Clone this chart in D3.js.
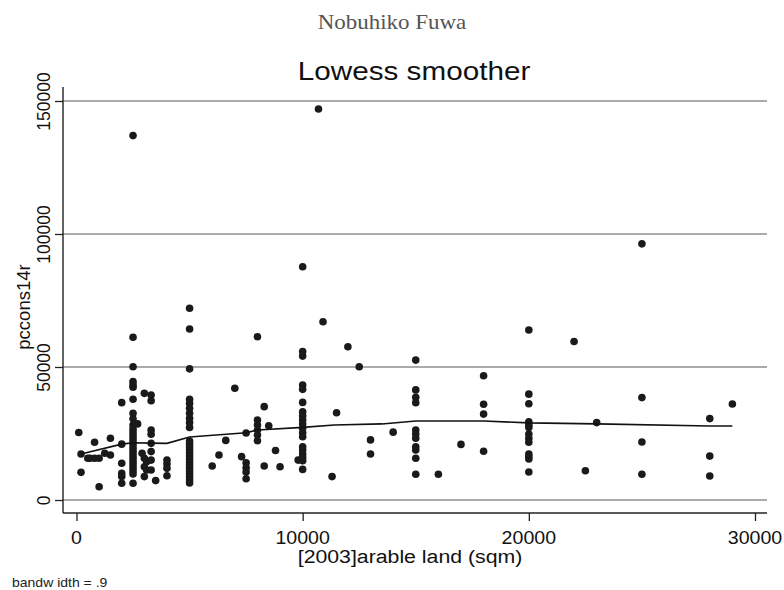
<!DOCTYPE html>
<html><head><meta charset="utf-8">
<script src="https://cdn.jsdelivr.net/npm/d3@7"></script>
<style>body{margin:0;background:#fff;} svg{display:block;}</style>
</head><body>
<script>
// ---- data ----
const landX = [
  100,
  200,200,
  500,600,800,800,1000,1000,1250,1500,1500,
  2000,2000,2000,2000,2000,2000,
  2500,2500,2500,2500,2500,2500,2500,2500,2500,
  2500,2500,2500,2500,2500,2500,2500,2500,2500,
  2500,2500,2500,2500,2500,2500,2500,2500,2500,
  2700,2900,
  3000,3000,3000,3000,
  3100,3100,
  3300,3300,3300,3300,3300,3300,3300,3300,
  3500,
  4000,4000,4000,4000,
  5000,5000,5000,5000,5000,
  5000,5000,5000,5000,5000,
  5000,5000,5000,5000,5000,
  5000,5000,5000,5000,5000,
  5000,5000,5000,5000,5000,
  6000,6300,6600,7000,7300,
  7500,7500,7500,7500,7500,
  8000,8000,8000,8000,8000,8000,
  8300,8300,
  8500,8800,9000,9800,
  10000,10000,10000,10000,10000,10000,10000,10000,10000,10000,
  10000,10000,10000,10000,10000,10000,10000,10000,10000,
  10700,10900,11300,11500,12000,12500,
  13000,13000,
  14000,
  15000,15000,15000,15000,15000,15000,15000,15000,15000,15000,15000,
  16000,17000,
  18000,18000,18000,18000,
  20000,20000,20000,20000,20000,20000,20000,20000,20000,20000,20000,20000,20000,
  22000,22500,23000,
  25000,25000,25000,25000,
  28000,28000,28000,
  29000
];
const consY = [
  25400,
  17300,10400,
  15700,15700,15700,21700,15700,5000,17600,23200,16900,
  36600,21000,13800,10000,8800,6300,
  137000,61200,50100,44500,43200,42400,37900,32600,30500,
  28200,26700,25600,24400,23300,22200,21100,19900,18800,
  17700,16500,15400,14300,13200,12000,10900,9800,6300,
  28600,17600,
  40100,15700,12500,8800,
  14400,11300,
  39500,37300,26300,24700,21300,18200,15000,11300,
  7300,
  15000,13500,11900,9100,
  72100,64300,49300,37900,36400,
  34500,32600,30700,29100,27300,
  22200,21100,19900,18800,17700,
  16500,15400,14300,13200,12000,
  10900,9800,8600,7500,6400,
  12800,16900,22400,42000,16300,
  25200,14000,12100,10500,8000,
  61400,30100,28200,26300,24400,22300,
  35100,12800,
  27900,18600,12500,15000,
  87700,55800,54100,43200,41600,36700,33200,31700,30100,28600,
  27000,25300,23800,20000,18800,17300,16000,14800,11500,
  147000,67000,8800,32800,57600,50100,
  22600,17300,
  25500,
  52600,41400,38600,36600,26300,24800,23200,20000,18800,15700,9700,
  9700,20900,
  46700,36000,32300,18300,
  63900,39800,36200,29400,28200,27300,24800,23200,21700,17300,16300,15400,10500,
  59600,11000,29100,
  96300,38500,21800,9700,
  30600,16500,9000,
  36100
];
const lowessX = [200, 2000, 2500, 3300, 4000, 5000, 7500, 8000, 10000, 11400, 13500, 15000, 18000, 20000, 23000, 28000, 29000];
const lowessY = [17300, 21000, 21500, 21400, 21300, 23700, 25300, 26300, 27300, 28200, 28600, 29700, 29700, 29000, 28600, 27800, 27800];
const xTicks = [0, 10000, 20000, 30000];
const yTicks = [0, 50000, 100000, 150000];
const titleText = "Lowess smoother";
const authorText = "Nobuhiko Fuwa";
const xTitle = "[2003]arable land (sqm)";
const yTitle = "pccons14r";
const noteText = "bandw idth = .9";

// ---- drawing ----
const W = 784, H = 590;
const SX = 1.12; // horizontal stretch of the original rendering
const sans = "'Liberation Sans', Arial, sans-serif";
const svg = d3.select("body").append("svg").attr("width", W).attr("height", H);
svg.append("rect").attr("width", W).attr("height", H).attr("fill", "#fff");

const x = d3.scaleLinear().domain([0, 30000]).range([76.5, 755]);
const y = d3.scaleLinear().domain([0, 150000]).range([500, 101]);
const plotL = 63, plotR = 767, plotT = 87, plotB = 513;

function hText(px, py, str, size, family, fill, anchor) {
  svg.append("text")
    .attr("transform", `translate(${px},${py}) scale(${SX},1)`)
    .attr("text-anchor", anchor || "middle")
    .attr("font-family", family)
    .attr("font-size", size)
    .attr("fill", fill)
    .text(str);
}

// gridlines
svg.append("g").selectAll("line").data(yTicks).join("line")
  .attr("x1", plotL).attr("x2", plotR)
  .attr("y1", d => y(d)).attr("y2", d => y(d))
  .attr("stroke", "#ababab").attr("stroke-width", 2.2);

// points
svg.append("g").selectAll("circle").data(landX.map((v, i) => [v, consY[i]])).join("circle")
  .attr("cx", d => x(d[0])).attr("cy", d => y(d[1]))
  .attr("r", 3.8).attr("fill", "#1a1a1a");

// lowess line
svg.append("path")
  .datum(lowessX.map((v, i) => [v, lowessY[i]]))
  .attr("fill", "none").attr("stroke", "#111").attr("stroke-width", 1.6)
  .attr("d", d3.line().x(d => x(d[0])).y(d => y(d[1])));

// y axis
const ya = svg.append("g").attr("transform", `translate(${plotL},0)`)
  .call(d3.axisLeft(y).tickValues(yTicks).tickSize(8).tickFormat(d3.format("d")));
ya.select(".domain").remove();
ya.selectAll(".tick line").attr("stroke", "#222").attr("stroke-width", 1.3);
ya.selectAll(".tick text")
  .attr("transform", "rotate(-90)")
  .attr("x", 0).attr("y", -13).attr("dy", 0)
  .attr("text-anchor", "middle")
  .attr("font-family", sans).attr("font-size", 17.5).attr("fill", "#111");
svg.append("line").attr("x1", plotL).attr("x2", plotL).attr("y1", plotT).attr("y2", plotB)
  .attr("stroke", "#222").attr("stroke-width", 1.4);

// x axis
const xa = svg.append("g").attr("transform", `translate(0,${plotB})`)
  .call(d3.axisBottom(x).tickValues(xTicks).tickSize(8).tickFormat(d3.format("d")));
xa.select(".domain").remove();
xa.selectAll(".tick line").attr("stroke", "#222").attr("stroke-width", 1.3);
xa.selectAll(".tick text").remove();
xTicks.forEach(t => hText(x(t), 544, d3.format("d")(t), 17.5, sans, "#111"));
svg.append("line").attr("x1", plotL).attr("x2", plotR).attr("y1", plotB).attr("y2", plotB)
  .attr("stroke", "#222").attr("stroke-width", 1.4);

// titles
hText(392, 29, authorText, 20.5, "'Liberation Serif', 'Times New Roman', serif", "#555");
hText(414, 80, titleText, 26.5, sans, "#111");
hText(410, 563, xTitle, 19, sans, "#111");
svg.append("text")
  .attr("transform", "translate(30,307) rotate(-90)")
  .attr("text-anchor", "middle")
  .attr("font-family", sans).attr("font-size", 18.5).attr("fill", "#111")
  .text(yTitle);
hText(12, 587, noteText, 12.5, sans, "#222", "start");
</script>
</body></html>
